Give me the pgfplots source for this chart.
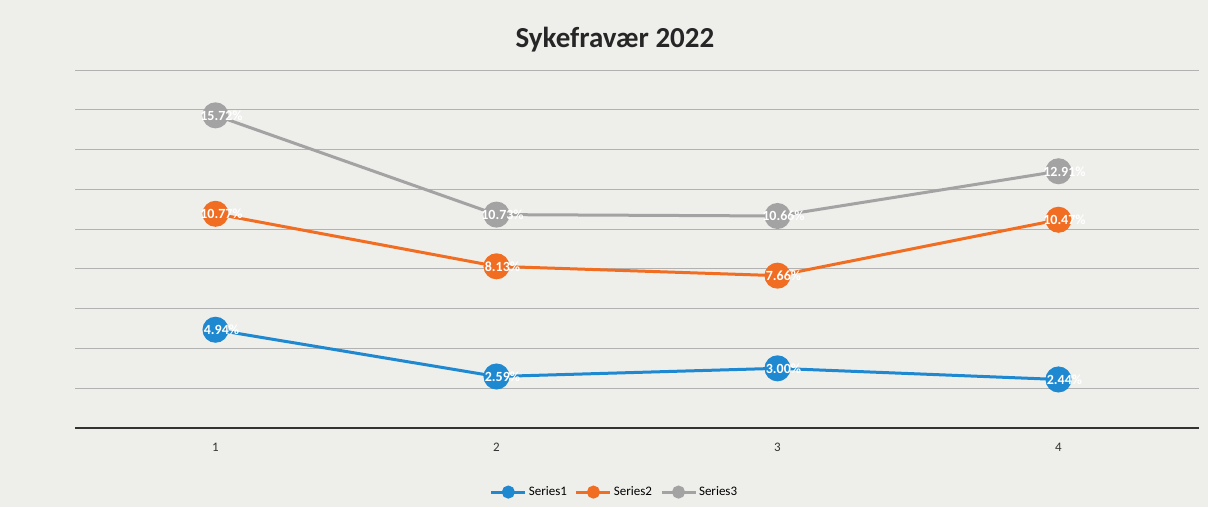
\documentclass[border=0pt]{standalone}
\usepackage{pgfplots}
\pgfplotsset{compat=1.18}
\usepackage{fontspec}
\setmainfont{Carlito}
\definecolor{sblue}{HTML}{1E88D0}
\definecolor{sorange}{HTML}{F06D22}
\definecolor{sgray}{HTML}{A3A3A3}
\definecolor{bgc}{HTML}{EEEFEB}
\begin{document}
\begin{tikzpicture}[x=1pt,y=1pt]
\fill[bgc] (-75,-79) rectangle (1133,428);
\useasboundingbox (-75,-79) rectangle (1133,428);
\begin{axis}[
  at={(0,0)}, anchor=south west,
  scale only axis, width=1124pt, height=358pt,
  xmin=0.5, xmax=4.5, ymin=0, ymax=18,
  xtick={1,2,3,4},
  ytick={2,4,...,18}, yticklabels={},
  extra y ticks={0}, extra y tick labels={},
  extra y tick style={grid style={black!80, line width=1.4pt}},
  ymajorgrids,
  grid style={black!30, line width=0.8pt},
  axis line style={draw=none},
  major tick length=0pt,
  /pgf/number format/assume math mode=true,
  tick label style={font=\fontsize{13}{15}\selectfont, text=black!80},
  xticklabel style={yshift=-12pt},
  clip=false,
  legend style={at={(0.48,-0.179)}, anchor=center, draw=none, fill=none,
    font=\fontsize{13}{15}\selectfont, legend columns=3,
    /tikz/every even column/.append style={column sep=6pt}},
  legend image code/.code={
    \draw[#1, line width=3pt] (0pt,0pt) -- (34pt,0pt);
    \draw[#1, mark size=5pt, mark repeat=1] plot coordinates {(17pt,0pt)};
  },
  every axis plot/.append style={line width=3pt, mark=*, mark size=11.5pt,
    nodes near coords={\pgfmathprintnumber[fixed,precision=2,fixed zerofill,assume math mode=true]{\pgfplotspointmeta}\%},
    every node near coord/.append style={anchor=center, xshift=6pt, text=white,
      font=\bfseries\fontsize{14}{16}\selectfont}},
]
\addplot[color=sblue, mark options={fill=sblue, draw=sblue}] coordinates {(1,4.94) (2,2.59) (3,3.00) (4,2.44)};
\addlegendentry{Series1}
\addplot[color=sorange, mark options={fill=sorange, draw=sorange}] coordinates {(1,10.77) (2,8.13) (3,7.66) (4,10.47)};
\addlegendentry{Series2}
\addplot[color=sgray, mark options={fill=sgray, draw=sgray}] coordinates {(1,15.72) (2,10.73) (3,10.66) (4,12.91)};
\addlegendentry{Series3}
\end{axis}
\node[font=\bfseries\fontsize{29}{33}\selectfont, text=black!85] at (540,388) {Sykefravær 2022};
\end{tikzpicture}
\end{document}
